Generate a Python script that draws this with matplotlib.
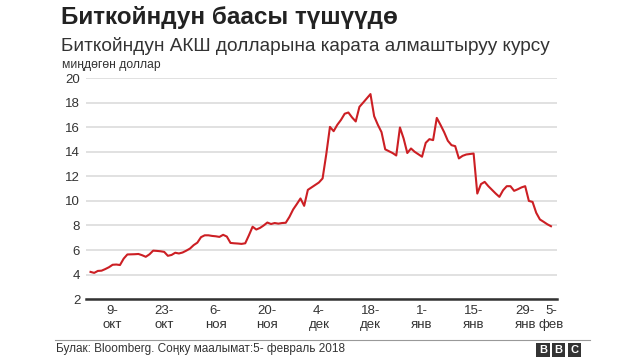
import matplotlib
matplotlib.use('Agg')
import matplotlib.pyplot as plt
import pandas as pd
from matplotlib.patches import Rectangle

# Bitcoin price, thousand USD
dates = pd.date_range('2017-10-03', '2018-02-05', freq='D')
prices = [
    4.22, 4.14, 4.30, 4.32, 4.45, 4.60, 4.80, 4.82, 4.78, 5.30,   # Oct 3-12
    5.64, 5.65, 5.66, 5.68, 5.58, 5.45, 5.65, 5.95, 5.93, 5.90,   # Oct 13-22
    5.85, 5.53, 5.60, 5.78, 5.72, 5.80, 5.95, 6.12, 6.40, 6.60,   # Oct 23-Nov 1
    7.05, 7.20, 7.20, 7.15, 7.12, 7.07, 7.24, 7.10, 6.58, 6.55,   # Nov 2-11
    6.53, 6.50, 6.55, 7.20, 7.90, 7.67, 7.80, 8.00, 8.24, 8.12,   # Nov 12-21
    8.20, 8.15, 8.20, 8.22, 8.70, 9.30, 9.74, 10.20, 9.60, 10.90,  # Nov 22-Dec 1
    11.10, 11.30, 11.50, 11.83, 13.80, 16.03, 15.68, 16.20, 16.60, 17.10,  # Dec 2-11
    17.20, 16.80, 16.47, 17.66, 18.00, 18.35, 18.70, 16.90, 16.20, 15.60,  # Dec 12-21
    14.20, 14.05, 13.90, 13.70, 15.98, 15.08, 13.90, 14.27, 14.00, 13.80,  # Dec 22-31
    13.60, 14.73, 15.03, 14.95, 16.76, 16.20, 15.60, 14.90, 14.54, 14.46,  # Jan 1-10
    13.46, 13.67, 13.78, 13.82, 13.86, 10.60, 11.37, 11.55, 11.20, 10.90,  # Jan 11-20
    10.60, 10.33, 10.87, 11.20, 11.20, 10.82, 10.95, 11.10, 11.20, 10.00,  # Jan 21-30
    9.92, 9.03, 8.49, 8.30, 8.10, 7.94,                                    # Jan 31-Feb 5
]

tick_dates = ['2017-10-09', '2017-10-23', '2017-11-06', '2017-11-20', '2017-12-04',
              '2017-12-18', '2018-01-01', '2018-01-15', '2018-01-29', '2018-02-05']
tick_labels = ['9-\nокт', '23-\nокт', '6-\nноя', '20-\nноя', '4-\nдек',
               '18-\nдек', '1-\nянв', '15-\nянв', '29-\nянв', '5-\nфев']
y_ticks = [2, 4, 6, 8, 10, 12, 14, 16, 18, 20]

plt.rcParams['font.family'] = ['Liberation Sans', 'DejaVu Sans']

fig = plt.figure(figsize=(6.4, 3.6), dpi=100)
ax = fig.add_axes([0.134, 0.169, 0.736, 0.614])

ax.plot(dates, prices, color='#cc1f24', linewidth=1.5, zorder=3)

ax.set_ylim(2, 20)
ax.set_yticks(y_ticks)
ax.set_xlim(pd.Timestamp('2017-10-01 17:00'), pd.Timestamp('2018-02-06 14:00'))
ax.set_xticks(pd.to_datetime(tick_dates))
ax.set_xticklabels(tick_labels, fontsize=9.5, color='#333333', linespacing=1.25)
ax.tick_params(axis='both', length=0, labelsize=9.5, colors='#333333')
ax.tick_params(axis='x', pad=4)
ax.tick_params(axis='y', pad=4)

ax.grid(axis='y', color='#dcdcdc', linewidth=1.2)
ax.set_axisbelow(True)
for side in ['top', 'right', 'left']:
    ax.spines[side].set_visible(False)
ax.spines['bottom'].set_color('#333333')
ax.spines['bottom'].set_linewidth(1.8)

# titles
fig.text(0.096, 0.952, 'Биткойндун баасы түшүүдө', fontsize=17.5, fontweight='bold',
         color='#222222', va='center', ha='left')
fig.text(0.096, 0.872, 'Биткойндун АКШ долларына карата алмаштыруу курсу', fontsize=13.7,
         color='#333333', va='center', ha='left')
fig.text(0.097, 0.82, 'миңдөгөн доллар', fontsize=8.7, color='#333333', va='center', ha='left')

# footer
fig.add_artist(plt.Line2D([0.086, 0.922], [0.055, 0.055], color='#999999', linewidth=0.8,
                          transform=fig.transFigure))
fig.text(0.088, 0.03, 'Булак: Bloomberg. Соңку маалымат:5- февраль 2018', fontsize=8.5,
         color='#333333', va='center', ha='left')

# BBC blocks
for i, letter in enumerate('BBC'):
    x0 = 0.838 + i * 0.0245
    fig.add_artist(Rectangle((x0, 0.008), 0.021, 0.038, transform=fig.transFigure,
                             facecolor='#333333', edgecolor='none'))
    fig.text(x0 + 0.0105, 0.027, letter, fontsize=8, fontweight='bold', color='white',
             ha='center', va='center')

fig.savefig('out.png', dpi=100, facecolor='white')
